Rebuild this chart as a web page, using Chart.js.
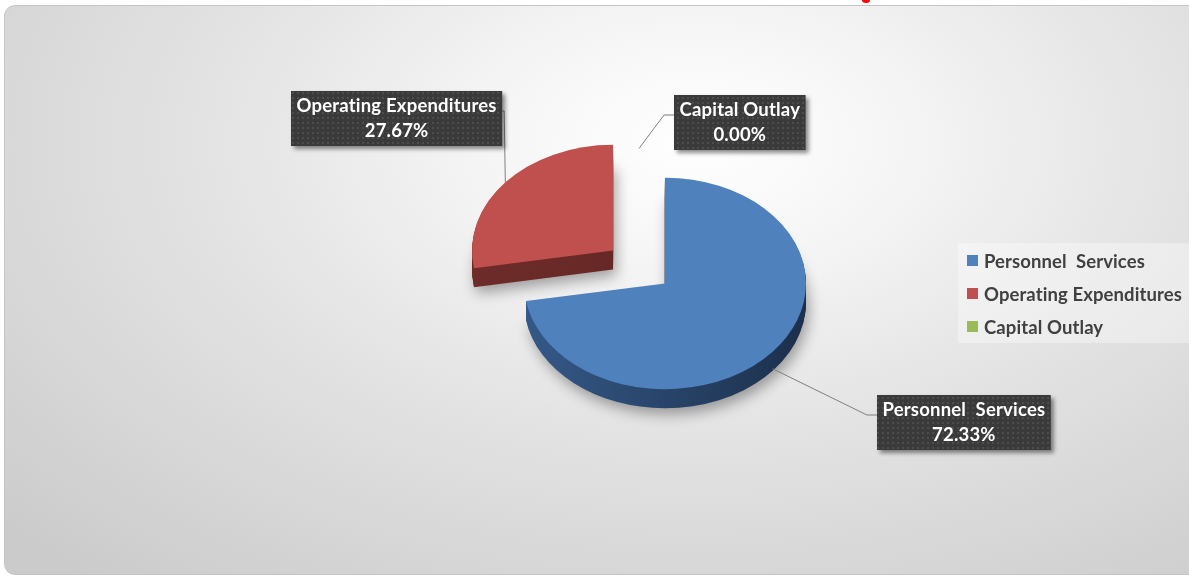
<!DOCTYPE html>
<html>
<head>
<meta charset="utf-8">
<title>Budget by Expense Class</title>
<script src="https://cdn.jsdelivr.net/npm/chart.js@4.4.1/dist/chart.umd.min.js"></script>
<style>
  html, body { margin: 0; padding: 0; background: #fff; overflow: hidden; }
  body { width: 1189px; height: 576px; position: relative; }
  #frame {
    position: absolute; left: 4px; top: 5px; width: 1210px; height: 568px;
    border: 1px solid #c4c4c4; border-radius: 11px;
    background: radial-gradient(ellipse 78% 100% at 57% 24%, #ffffff 0%, #f6f6f6 20%, #e4e4e4 50%, #cbcbcb 100%);
  }
  #mark { position: absolute; left: 862px; top: -3px; width: 8px; height: 6px; border-radius: 50%; background: #f00; }
  #wrap { position: absolute; left: 0; top: 0; width: 1189px; height: 576px; }
  #legend {
    position: absolute; left: 958px; top: 243px; width: 240px; height: 100px;
    box-sizing: border-box; padding-top: 1px; background: rgba(255, 255, 255, 0.35);
  }
  #legend .item {
    height: 33px; display: flex; align-items: center; padding-left: 9px;
    font: bold 18.5px Lato, sans-serif; color: #404040; white-space: pre;
    font-variant-ligatures: none; letter-spacing: 0.1px;
  }
  #legend .swatch { width: 11px; height: 11px; margin-right: 6px; flex: none; }
</style>
</head>
<body>
<div id="frame"></div>
<div id="mark"></div>
<div id="wrap"><canvas id="pieChart"></canvas></div>
<div id="legend"></div>
<script>
// expense classes and their share of the budget (%)
const categories = ['Personnel  Services', 'Operating Expenditures', 'Capital Outlay'];
const shares = [72.33, 27.67, 0.00];

const sliceColors = ['#4f81bd', '#c0504d', '#9bbb59'];
const sideFrom = ['#3a6396', '#6e2c2a', '#6f8c3e'];
const sideTo = ['#1b2d48', '#5c2321', '#55692e'];
const explode = [34, 34, 17];   // px each slice is pulled out along its middle angle

// where the data label boxes sit
const labelBoxes = [
    { left: 877, top: 395 },
    { left: 291, top: 91 },
    { left: 674, top: 95 }
];

const TILT = 0.75;   // vertical squash of the pie disc
const DEPTH = 19;    // thickness of the disc in px
const LABEL_FONT = 'bold 18.5px Lato, sans-serif';

function shiftOf(arc, i) {
    const mid = (arc.startAngle + arc.endAngle) / 2;
    return { x: Math.cos(mid) * explode[i], y: Math.sin(mid) * explode[i], mid: mid };
}

function traceSlice(ctx, arc, i) {
    const s = shiftOf(arc, i);
    const x = arc.x + s.x, y = arc.y + s.y;
    ctx.beginPath();
    ctx.moveTo(x, y);
    ctx.arc(x, y, arc.outerRadius, arc.startAngle, arc.endAngle);
    ctx.closePath();
}

function tilt(ctx, cx, cy, dy) {
    ctx.translate(cx, cy + dy);
    ctx.scale(1, TILT);
    ctx.translate(-cx, -cy);
}

function dotPattern(ctx) {
    const c = document.createElement('canvas');
    c.width = 5; c.height = 5;
    const g = c.getContext('2d');
    g.fillStyle = '#3a3a3a';
    g.fillRect(0, 0, 5, 5);
    g.fillStyle = '#4d4d4d';
    g.fillRect(2, 2, 2, 2);
    return ctx.createPattern(c, 'repeat');
}

const pie3d = {
    id: 'pie3d',
    beforeDatasetsDraw(chart) {
        const ctx = chart.ctx;
        const arcs = chart.getDatasetMeta(0).data;
        const cx = arcs[0].x, cy = arcs[0].y, R = arcs[0].outerRadius;

        // side walls: stack of darker copies, the lowest one casts the shadow
        for (let d = DEPTH; d >= 1; d--) {
            arcs.forEach((arc, i) => {
                if (!arc.circumference) return;
                ctx.save();
                if (d === DEPTH) {
                    ctx.shadowColor = 'rgba(0,0,0,0.35)';
                    ctx.shadowBlur = 14;
                    ctx.shadowOffsetX = 3;
                    ctx.shadowOffsetY = 6;
                }
                tilt(ctx, cx, cy, d);
                const g = ctx.createLinearGradient(cx - R - 40, 0, cx + R + 40, 0);
                g.addColorStop(0, sideFrom[i]);
                g.addColorStop(1, sideTo[i]);
                ctx.fillStyle = g;
                traceSlice(ctx, arc, i);
                ctx.fill();
                ctx.restore();
            });
        }

        // pull the slices out, Chart.js then draws the top faces inside the squash
        arcs.forEach((arc, i) => {
            const s = shiftOf(arc, i);
            arc.$home = { x: arc.x, y: arc.y };
            arc.x += s.x;
            arc.y += s.y;
        });
        ctx.save();
        tilt(ctx, cx, cy, 0);
    },
    afterDatasetsDraw(chart) {
        chart.ctx.restore();
        chart.getDatasetMeta(0).data.forEach(arc => {
            arc.x = arc.$home.x;
            arc.y = arc.$home.y;
        });
    },
    afterDraw(chart) {
        const ctx = chart.ctx;
        const arcs = chart.getDatasetMeta(0).data;
        const cy = arcs[0].y;
        const pattern = dotPattern(ctx);

        arcs.forEach((arc, i) => {
            const s = shiftOf(arc, i);
            const R = arc.outerRadius;
            const ax = arc.x + s.x + Math.cos(s.mid) * R;
            let ay = cy + (arc.y + s.y + Math.sin(s.mid) * R - cy) * TILT;
            if (Math.sin(s.mid) > 0.2) ay += DEPTH * 0.9;

            const line1 = chart.data.labels[i];
            const line2 = shares[i].toFixed(2) + '%';
            ctx.font = LABEL_FONT;
            ctx.letterSpacing = '0.2px';
            const w = Math.max(ctx.measureText(line1).width, ctx.measureText(line2).width) + 11;
            const h = 55;
            const box = labelBoxes[i];

            // leader line
            const ey = box.top + 20;
            const toRight = box.left > ax;
            const ex = toRight ? box.left : box.left + w;
            const kx = toRight ? ex - 10 : ex + 2;
            ctx.save();
            ctx.strokeStyle = '#7f7f7f';
            ctx.lineWidth = 1;
            ctx.beginPath();
            ctx.moveTo(ax, ay);
            ctx.lineTo(kx, ey);
            ctx.lineTo(ex, ey);
            ctx.stroke();
            ctx.restore();

            // label box
            ctx.save();
            ctx.shadowColor = 'rgba(0,0,0,0.45)';
            ctx.shadowBlur = 4;
            ctx.shadowOffsetX = 3;
            ctx.shadowOffsetY = 3;
            ctx.fillStyle = pattern;
            ctx.fillRect(box.left, box.top, w, h);
            ctx.restore();

            ctx.save();
            ctx.fillStyle = '#ffffff';
            ctx.font = LABEL_FONT;
            ctx.letterSpacing = '0.2px';
            ctx.textAlign = 'center';
            ctx.textBaseline = 'middle';
            ctx.fillText(line1, box.left + w / 2, box.top + 15);
            ctx.fillText(line2, box.left + w / 2, box.top + 40);
            ctx.restore();
        });
    }
};

const ctx = document.getElementById('pieChart').getContext('2d');
const chart = new Chart(ctx, {
    type: 'pie',
    data: {
        labels: categories,
        datasets: [{
            data: shares,
            backgroundColor: sliceColors,
            borderWidth: 0
        }]
    },
    options: {
        responsive: true,
        maintainAspectRatio: false,
        animation: false,
        events: [],
        radius: 141,
        layout: { padding: { left: 89, top: 0, right: 0, bottom: 42 } },
        plugins: {
            legend: { display: false },
            tooltip: { enabled: false }
        }
    },
    plugins: [pie3d]
});

// legend built from the chart's own labels and colours
const legendEl = document.getElementById('legend');
chart.data.labels.forEach((label, i) => {
    const row = document.createElement('div');
    row.className = 'item';
    const sw = document.createElement('span');
    sw.className = 'swatch';
    sw.style.background = sliceColors[i];
    row.appendChild(sw);
    row.appendChild(document.createTextNode(label));
    legendEl.appendChild(row);
});
</script>
</body>
</html>
